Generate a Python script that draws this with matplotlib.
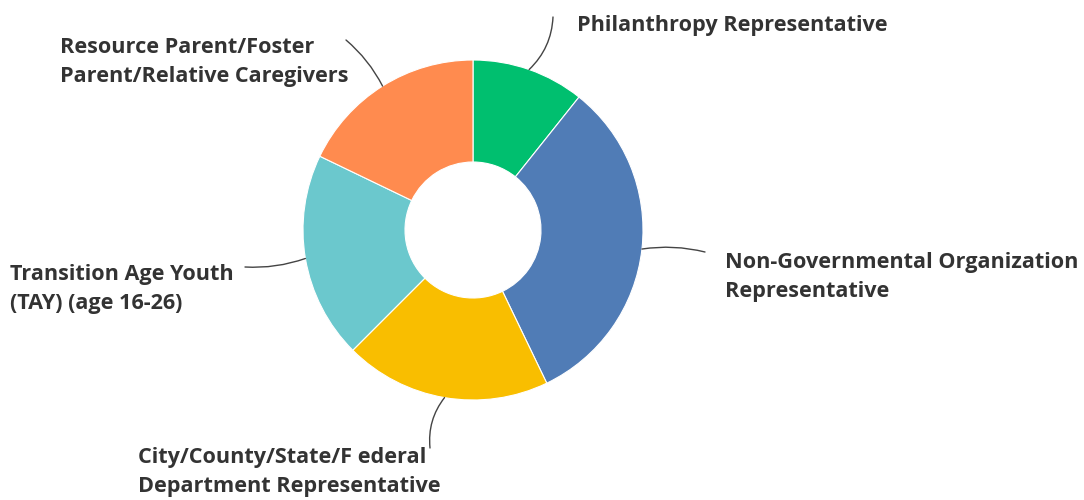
"""Donut chart of board member roles, SurveyMonkey-style."""
import matplotlib
matplotlib.use("Agg")
import matplotlib.pyplot as plt
import numpy as np

plt.rcParams["font.family"] = ["Open Sans", "DejaVu Sans"]

# data (clockwise from 12 o'clock)
labels = [
    "Philanthropy Representative",
    "Non-Governmental Organization\nRepresentative",
    "City/County/State/F ederal\nDepartment Representative",
    "Transition Age Youth\n(TAY) (age 16-26)",
    "Resource Parent/Foster\nParent/Relative Caregivers",
]
counts = [6, 18, 11, 11, 10]
colors = ["#00BF6F", "#507CB6", "#F9BE00", "#6BC8CD", "#FF8B4F"]

# layout, in pixel units (y up)
W, H = 1084, 500
CX, CY = 473, 500 - 230
R_OUT, R_IN = 170, 68
# (text x, text block centre y, leader end x, leader end y, curvature)
label_pos = [
    (577, 500 - 26, 553, 500 - 17, -0.2),
    (725, 500 - 277, 705, 500 - 252, 0.1),
    (138, 500 - 472, 430, 500 - 448, -0.2),
    (10, 500 - 289, 245, 500 - 267, 0.1),
    (60, 500 - 62, 346, 500 - 40, -0.1),
]

fig = plt.figure(figsize=(W / 100, H / 100), dpi=100)
ax = fig.add_axes([0, 0, 1, 1])

wedges, _ = ax.pie(
    counts, colors=colors, startangle=90, counterclock=False,
    center=(CX, CY), radius=R_OUT, frame=True,
    wedgeprops=dict(width=R_OUT - R_IN, edgecolor="white", linewidth=0.8),
)
ax.set_xlim(0, W)
ax.set_ylim(0, H)
ax.set_aspect("equal")
ax.axis("off")

for w, lab, (tx, ty, lx, ly, rad) in zip(wedges, labels, label_pos):
    mid = np.deg2rad((w.theta1 + w.theta2) / 2)
    edge = (CX + R_OUT * np.cos(mid), CY + R_OUT * np.sin(mid))
    ax.annotate("", xy=edge, xytext=(lx, ly),
                arrowprops=dict(arrowstyle="-", color="#444444", lw=1.0,
                                shrinkA=0, shrinkB=0,
                                connectionstyle=f"arc3,rad={rad}"))
    ax.text(tx, ty, lab, ha="left", va="center", fontsize=15.6, fontweight="bold",
            color="#333333", linespacing=1.44)

fig.savefig("out.png", dpi=100)
